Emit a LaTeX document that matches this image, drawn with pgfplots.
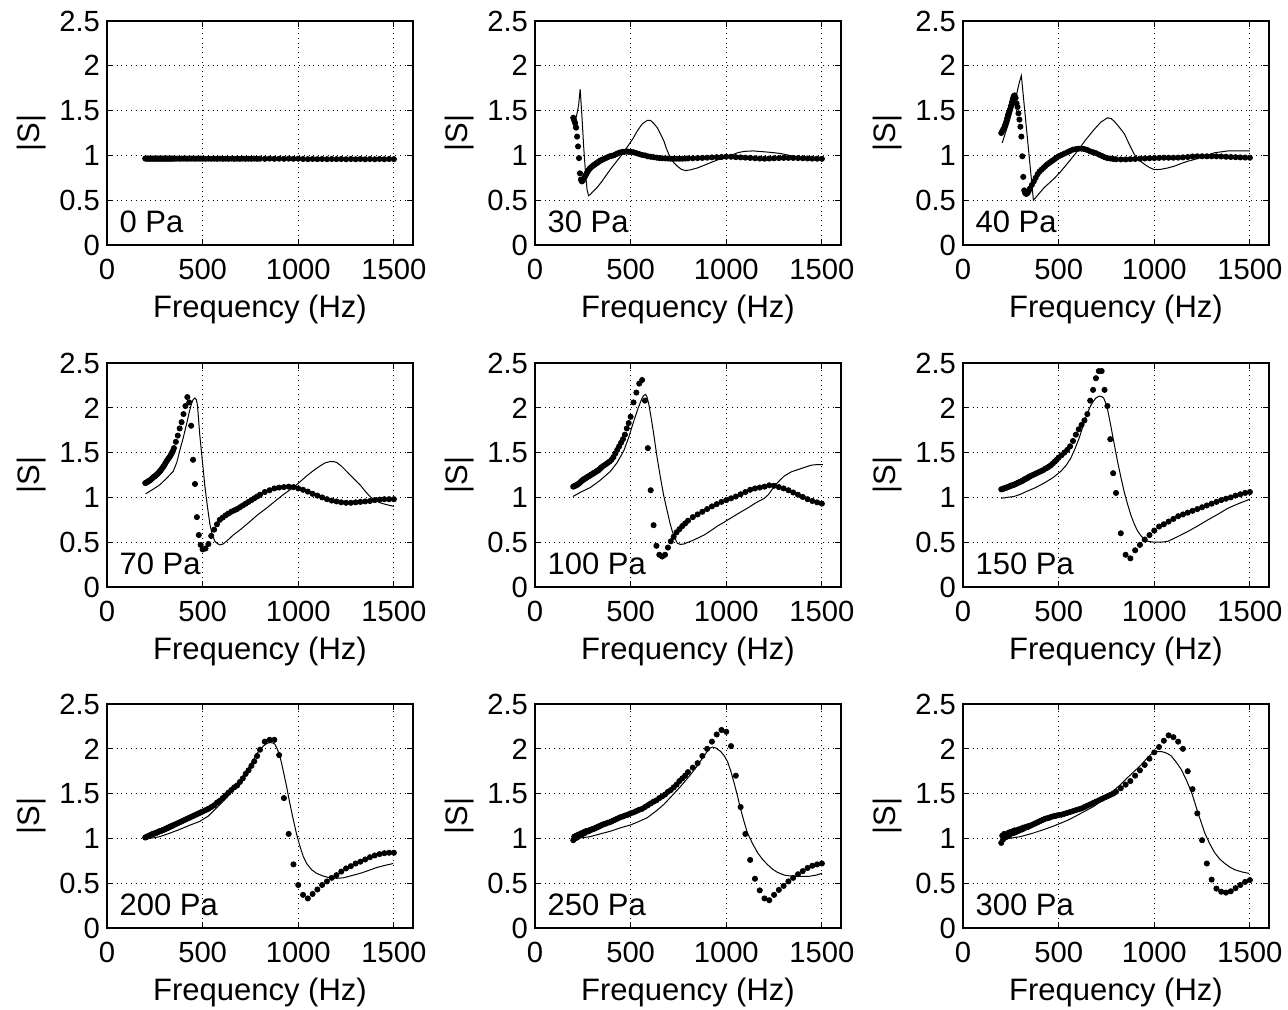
\documentclass[border=0pt]{standalone}
\usepackage{fontspec}
\setmainfont{Liberation Sans}
\usepackage{pgfplots}
\usepackage{pgfplotstable}
\pgfplotsset{compat=1.18}

\pgfplotstableread{
f d0 d30 d40 d70 d100 d150 d200 d250 d300
200 0.965 1.42 1.25 1.16 1.12 1.09 1.01 0.98 0.95
205 0.963 1.39 1.27 1.165 1.125 1.093 1.015 1.02 1.03
210 0.966 1.36 1.29 1.17 1.13 1.097 1.02 1.00 0.99
215 0.964 1.31 1.31 1.18 1.135 1.10 1.025 1.03 1.05
220 0.965 1.21 1.34 1.185 1.14 1.105 1.03 1.01 1.01
225 0.963 1.10 1.37 1.19 1.15 1.108 1.035 1.04 1.04
230 0.965 0.97 1.41 1.20 1.155 1.112 1.04 1.03 1.02
235 0.964 0.80 1.45 1.21 1.165 1.116 1.045 1.05 1.06
240 0.965 0.73 1.48 1.22 1.175 1.12 1.05 1.04 1.03
245 0.963 0.71 1.51 1.23 1.185 1.125 1.053 1.06 1.07
250 0.965 0.72 1.55 1.235 1.195 1.13 1.057 1.05 1.05
255 0.964 0.74 1.59 1.245 1.20 1.133 1.06 1.07 1.06
260 0.965 0.76 1.63 1.255 1.21 1.137 1.065 1.06 1.08
265 0.963 0.78 1.66 1.265 1.215 1.14 1.07 1.08 1.06
270 0.965 0.80 1.67 1.275 1.22 1.145 1.075 1.075 1.09
275 0.964 0.82 1.64 1.29 1.23 1.15 1.08 1.085 1.07
280 0.965 0.835 1.58 1.30 1.235 1.155 1.083 1.08 1.09
285 0.963 0.85 1.54 1.315 1.24 1.16 1.087 1.09 1.08
290 0.965 0.86 1.47 1.33 1.25 1.165 1.09 1.095 1.10
295 0.964 0.87 1.40 1.345 1.255 1.17 1.095 1.10 1.09
300 0.965 0.88 1.32 1.36 1.26 1.175 1.10 1.10 1.10
305 0.963 0.888 1.21 1.38 1.27 1.18 1.105 1.105 1.11
310 0.965 0.895 0.99 1.40 1.275 1.185 1.11 1.11 1.10
315 0.964 0.903 0.76 1.415 1.28 1.19 1.115 1.115 1.12
320 0.965 0.91 0.61 1.43 1.29 1.20 1.12 1.12 1.115
325 0.963 0.918 0.58 1.445 1.295 1.205 1.125 1.125 1.12
330 0.965 0.925 0.57 1.46 1.30 1.21 1.13 1.13 1.13
335 0.964 0.933 0.575 1.48 1.31 1.215 1.135 1.135 1.125
340 0.965 0.94 0.59 1.50 1.32 1.22 1.14 1.14 1.13
345 0.963 0.945 0.61 1.52 1.33 1.23 1.145 1.145 1.14
350 0.965 0.95 0.63 1.55 1.34 1.235 1.15 1.15 1.14
360 0.964 0.96 0.67 1.62 1.355 1.245 1.16 1.16 1.15
370 0.965 0.97 0.71 1.69 1.37 1.255 1.17 1.165 1.16
380 0.963 0.98 0.75 1.77 1.385 1.265 1.18 1.175 1.17
390 0.965 0.99 0.79 1.84 1.40 1.275 1.19 1.18 1.18
400 0.964 0.995 0.82 1.93 1.42 1.285 1.20 1.19 1.19
410 0.965 1.00 0.84 2.02 1.45 1.295 1.21 1.20 1.20
420 0.963 1.01 0.86 2.12 1.49 1.305 1.22 1.21 1.21
430 0.965 1.02 0.88 2.06 1.53 1.32 1.23 1.22 1.22
440 0.964 1.03 0.90 1.80 1.57 1.33 1.24 1.23 1.225
450 0.965 1.035 0.915 1.42 1.61 1.345 1.25 1.24 1.23
460 0.963 1.04 0.93 1.15 1.65 1.36 1.26 1.245 1.24
470 0.965 1.04 0.945 0.78 1.70 1.38 1.27 1.255 1.245
480 0.964 1.045 0.96 0.58 1.77 1.40 1.28 1.26 1.25
490 0.965 1.04 0.975 0.47 1.83 1.42 1.29 1.27 1.255
500 0.963 1.04 0.99 0.42 1.90 1.445 1.30 1.28 1.26
515 0.962 1.035 1.005 0.43 2.06 1.47 1.315 1.29 1.265
530 0.964 1.025 1.02 0.48 2.17 1.50 1.33 1.305 1.275
545 0.962 1.015 1.035 0.57 2.27 1.53 1.35 1.32 1.285
560 0.963 1.005 1.05 0.64 2.31 1.57 1.37 1.33 1.295
575 0.962 1.00 1.065 0.70 2.08 1.63 1.40 1.35 1.305
590 0.964 0.99 1.07 0.75 1.55 1.70 1.42 1.37 1.315
605 0.962 0.985 1.075 0.775 1.08 1.76 1.45 1.39 1.325
620 0.963 0.98 1.075 0.80 0.69 1.81 1.48 1.41 1.335
635 0.962 0.975 1.07 0.82 0.46 1.86 1.51 1.425 1.35
650 0.964 0.97 1.06 0.84 0.36 1.93 1.54 1.45 1.365
665 0.962 0.968 1.045 0.855 0.34 2.08 1.57 1.47 1.38
680 0.963 0.966 1.035 0.87 0.36 2.20 1.59 1.49 1.395
695 0.962 0.965 1.025 0.89 0.44 2.33 1.63 1.52 1.41
710 0.964 0.963 1.01 0.91 0.51 2.41 1.67 1.54 1.425
725 0.962 0.963 0.995 0.93 0.56 2.41 1.72 1.57 1.44
740 0.963 0.963 0.98 0.95 0.61 2.20 1.76 1.60 1.455
755 0.962 0.963 0.97 0.97 0.645 2.02 1.81 1.64 1.47
770 0.964 0.963 0.965 0.99 0.68 1.65 1.86 1.67 1.485
785 0.962 0.965 0.96 1.01 0.71 1.27 1.92 1.70 1.50
800 0.963 0.966 0.957 1.03 0.74 1.05 1.99 1.74 1.52
825 0.962 0.968 0.955 1.06 0.78 0.60 2.08 1.79 1.56
850 0.964 0.97 0.955 1.08 0.81 0.36 2.10 1.84 1.60
875 0.962 0.972 0.958 1.10 0.84 0.32 2.10 1.92 1.64
900 0.963 0.975 0.96 1.11 0.87 0.41 1.93 2.00 1.70
925 0.962 0.978 0.963 1.115 0.90 0.47 1.45 2.08 1.76
950 0.964 0.98 0.966 1.12 0.925 0.53 1.05 2.16 1.82
975 0.962 0.982 0.968 1.115 0.95 0.58 0.71 2.21 1.89
1000 0.963 0.985 0.97 1.10 0.97 0.63 0.48 2.19 1.96
1025 0.960 0.985 0.972 1.085 0.99 0.675 0.37 2.03 2.02
1050 0.958 0.98 0.974 1.065 1.01 0.70 0.33 1.70 2.09
1075 0.960 0.978 0.974 1.04 1.035 0.73 0.38 1.35 2.15
1100 0.958 0.975 0.974 1.02 1.06 0.76 0.43 1.05 2.13
1125 0.960 0.972 0.975 1.00 1.085 0.79 0.48 0.76 2.08
1150 0.958 0.968 0.978 0.98 1.10 0.81 0.52 0.55 2.00
1175 0.960 0.965 0.982 0.965 1.11 0.83 0.56 0.42 1.75
1200 0.958 0.963 0.988 0.955 1.12 0.85 0.59 0.33 1.55
1225 0.960 0.965 0.99 0.945 1.135 0.87 0.63 0.31 1.28
1250 0.957 0.968 0.99 0.94 1.13 0.89 0.665 0.37 0.98
1275 0.960 0.97 0.99 0.94 1.115 0.91 0.69 0.425 0.72
1300 0.957 0.972 0.99 0.945 1.10 0.93 0.72 0.47 0.54
1325 0.960 0.972 0.99 0.95 1.08 0.95 0.74 0.52 0.44
1350 0.957 0.972 0.988 0.955 1.055 0.97 0.765 0.56 0.405
1375 0.960 0.97 0.985 0.96 1.03 0.985 0.79 0.60 0.395
1400 0.957 0.968 0.982 0.97 1.005 1.00 0.81 0.635 0.41
1425 0.960 0.966 0.98 0.975 0.98 1.02 0.825 0.67 0.445
1450 0.957 0.964 0.978 0.98 0.96 1.035 0.835 0.695 0.48
1475 0.960 0.963 0.976 0.98 0.945 1.05 0.84 0.71 0.515
1500 0.958 0.962 0.974 0.98 0.93 1.06 0.84 0.72 0.535
}\meas

\pgfplotsset{
  panel/.style={
    scale only axis, width=153pt, height=112pt,
    anchor=south west,
    xmin=0, xmax=1600, ymin=0, ymax=2.5,
    xtick={0,500,1000,1500}, ytick={0,0.5,1,1.5,2,2.5},
    grid=major, major grid style={black, dotted, line width=0.5pt},
    tick align=inside, major tick length=3pt,
    tick style={black, line width=0.6pt},
    axis line style={line width=0.8pt},
    xlabel={Frequency (Hz)}, ylabel={|S|},
    /pgf/number format/assume math mode=true,
    /pgf/number format/1000 sep={},
    tick label style={font=\fontsize{14.6}{17}\selectfont},
    xticklabel style={yshift=-3.5pt},
    label style={font=\fontsize{15.5}{18}\selectfont},
    xlabel style={yshift=-1pt},
  },
  meas/.style={only marks, mark=*, mark size=1.3pt, black},
  model/.style={black, line width=0.5pt, mark=none},
}
\tikzset{pa/.style={anchor=base west, inner sep=0pt, font=\fontsize{15.5}{18}\selectfont}}

\begin{document}
\begin{tikzpicture}
\useasboundingbox (0,0) rectangle (644pt,504.5pt);

% ---------- row 1 ----------
\begin{axis}[panel, at={(53.5pt,382pt)}]
\addplot[meas] table[x=f,y=d0]{\meas};
\addplot[model] coordinates {(200,0.965)(800,0.963)(1500,0.962)};
\node[pa] at (rel axis cs:0.04,0.054) {0 Pa};
\end{axis}

\begin{axis}[panel, at={(267.5pt,382pt)}]
\addplot[meas] table[x=f,y=d30]{\meas};
\addplot[model] coordinates {(200,1.30)(210,1.38)(220,1.47)(228,1.56)(236,1.74)(245,1.45)(255,1.08)(265,0.78)(272,0.62)(280,0.55)(290,0.565)(300,0.59)(324,0.64)(350,0.71)(376,0.79)(400,0.86)(429,0.94)(455,1.01)(481,1.09)(510,1.18)(534,1.27)(560,1.35)(586,1.39)(604,1.39)(620,1.36)(639,1.31)(656,1.24)(674,1.16)(690,1.06)(709,0.97)(725,0.92)(744,0.88)(765,0.845)(788,0.83)(815,0.84)(849,0.86)(885,0.89)(919,0.92)(955,0.95)(989,0.97)(1024,1.00)(1060,1.03)(1094,1.045)(1140,1.05)(1199,1.04)(1250,1.03)(1287,1.02)(1330,1.00)(1374,0.98)(1430,0.97)(1500,0.97)};
\node[pa] at (rel axis cs:0.04,0.054) {30 Pa};
\end{axis}

\begin{axis}[panel, at={(481.5pt,382pt)}]
\addplot[meas] table[x=f,y=d40]{\meas};
\addplot[model] coordinates {(205,1.14)(220,1.24)(240,1.37)(260,1.52)(280,1.68)(295,1.82)(305,1.89)(320,1.56)(335,1.23)(350,0.90)(360,0.68)(368,0.50)(380,0.53)(400,0.58)(424,0.64)(450,0.69)(480,0.75)(511,0.82)(550,0.92)(599,1.05)(640,1.17)(686,1.29)(720,1.37)(756,1.42)(775,1.41)(791,1.38)(815,1.32)(844,1.24)(870,1.12)(896,1.01)(920,0.95)(949,0.90)(975,0.865)(1001,0.84)(1035,0.845)(1071,0.86)(1105,0.88)(1141,0.91)(1175,0.935)(1211,0.955)(1260,0.99)(1316,1.03)(1386,1.05)(1450,1.05)(1500,1.05)};
\node[pa] at (rel axis cs:0.04,0.054) {40 Pa};
\end{axis}

% ---------- row 2 ----------
\begin{axis}[panel, at={(53.5pt,211pt)}]
\addplot[meas] table[x=f,y=d70]{\meas};
\addplot[model] coordinates {(202,1.04)(240,1.09)(276,1.14)(310,1.21)(346,1.29)(365,1.39)(380,1.52)(398,1.66)(415,1.81)(430,1.95)(441,2.04)(450,2.09)(459,2.11)(467,2.09)(473,2.03)(485,1.70)(498,1.42)(511,1.14)(525,0.90)(538,0.70)(551,0.58)(564,0.51)(577,0.485)(590,0.47)(607,0.48)(630,0.52)(660,0.58)(700,0.645)(747,0.73)(790,0.81)(834,0.88)(880,0.96)(921,1.03)(960,1.09)(991,1.14)(1044,1.24)(1080,1.30)(1113,1.35)(1140,1.385)(1166,1.40)(1185,1.40)(1201,1.39)(1225,1.35)(1253,1.29)(1290,1.21)(1323,1.14)(1350,1.07)(1375,1.01)(1400,0.97)(1428,0.94)(1460,0.92)(1500,0.90)};
\node[pa] at (rel axis cs:0.04,0.054) {70 Pa};
\end{axis}

\begin{axis}[panel, at={(267.5pt,211pt)}]
\addplot[meas] table[x=f,y=d100]{\meas};
\addplot[model] coordinates {(198,1.01)(240,1.06)(289,1.11)(340,1.19)(394,1.29)(430,1.39)(464,1.52)(490,1.67)(516,1.85)(540,2.00)(560,2.11)(570,2.14)(578,2.15)(586,2.12)(595,2.04)(608,1.88)(621,1.70)(638,1.45)(656,1.22)(673,1.02)(691,0.85)(705,0.72)(718,0.62)(731,0.545)(744,0.49)(760,0.475)(779,0.48)(800,0.50)(814,0.51)(850,0.545)(884,0.58)(920,0.63)(954,0.68)(990,0.725)(1024,0.77)(1070,0.83)(1111,0.88)(1155,0.94)(1199,0.99)(1220,1.03)(1240,1.09)(1270,1.17)(1304,1.24)(1340,1.285)(1374,1.31)(1410,1.335)(1444,1.36)(1470,1.365)(1505,1.365)};
\node[pa] at (rel axis cs:0.04,0.054) {100 Pa};
\end{axis}

\begin{axis}[panel, at={(481.5pt,211pt)}]
\addplot[meas] table[x=f,y=d150]{\meas};
\addplot[model] coordinates {(200,0.99)(230,1.00)(266,1.01)(300,1.035)(336,1.07)(380,1.11)(424,1.16)(470,1.22)(511,1.29)(540,1.36)(564,1.44)(585,1.54)(607,1.66)(625,1.78)(642,1.89)(660,1.99)(677,2.06)(695,2.11)(712,2.13)(725,2.125)(735,2.11)(745,2.06)(756,1.98)(770,1.83)(791,1.59)(808,1.40)(826,1.22)(843,1.06)(861,0.92)(878,0.80)(896,0.70)(913,0.625)(931,0.57)(948,0.535)(966,0.51)(1000,0.50)(1036,0.50)(1071,0.51)(1120,0.56)(1176,0.62)(1230,0.685)(1281,0.75)(1335,0.815)(1386,0.88)(1440,0.93)(1500,0.98)};
\node[pa] at (rel axis cs:0.04,0.054) {150 Pa};
\end{axis}

% ---------- row 3 ----------
\begin{axis}[panel, at={(53.5pt,40.5pt)}]
\addplot[meas] table[x=f,y=d200]{\meas};
\addplot[model] coordinates {(206,1.00)(240,1.005)(276,1.02)(330,1.06)(380,1.10)(430,1.145)(485,1.19)(530,1.25)(572,1.34)(615,1.43)(660,1.54)(705,1.67)(747,1.81)(785,1.95)(817,2.03)(835,2.06)(852,2.07)(868,2.065)(878,2.05)(890,2.00)(904,1.92)(920,1.77)(939,1.58)(956,1.39)(974,1.21)(991,1.05)(1009,0.91)(1026,0.80)(1044,0.72)(1070,0.65)(1096,0.61)(1130,0.58)(1166,0.56)(1200,0.555)(1236,0.56)(1280,0.585)(1323,0.61)(1365,0.64)(1410,0.675)(1455,0.70)(1497,0.72)};
\node[pa] at (rel axis cs:0.04,0.054) {200 Pa};
\end{axis}

\begin{axis}[panel, at={(267.5pt,40.5pt)}]
\addplot[meas] table[x=f,y=d250]{\meas};
\addplot[model] coordinates {(200,1.00)(240,1.005)(289,1.02)(340,1.05)(394,1.08)(450,1.12)(499,1.15)(545,1.19)(586,1.23)(630,1.30)(674,1.38)(718,1.48)(761,1.58)(805,1.69)(849,1.81)(880,1.91)(910,2.00)(928,2.02)(945,2.01)(971,1.97)(990,1.92)(1006,1.86)(1024,1.75)(1041,1.62)(1059,1.47)(1076,1.32)(1094,1.18)(1111,1.06)(1138,0.94)(1164,0.84)(1190,0.765)(1217,0.705)(1243,0.655)(1269,0.62)(1304,0.59)(1357,0.575)(1427,0.575)(1470,0.59)(1500,0.61)};
\node[pa] at (rel axis cs:0.04,0.054) {250 Pa};
\end{axis}

\begin{axis}[panel, at={(481.5pt,40.5pt)}]
\addplot[meas] table[x=f,y=d300]{\meas};
\addplot[model] coordinates {(196,0.985)(240,1.00)(301,1.02)(360,1.055)(424,1.10)(470,1.135)(511,1.17)(555,1.21)(599,1.26)(643,1.31)(686,1.36)(730,1.43)(774,1.51)(818,1.59)(861,1.68)(896,1.75)(931,1.82)(960,1.89)(984,1.94)(1001,1.96)(1019,1.97)(1036,1.97)(1054,1.96)(1071,1.945)(1089,1.92)(1115,1.85)(1141,1.77)(1168,1.65)(1194,1.52)(1212,1.40)(1229,1.28)(1247,1.17)(1264,1.06)(1290,0.94)(1316,0.84)(1342,0.77)(1369,0.72)(1395,0.68)(1421,0.65)(1460,0.625)(1495,0.61)};
\node[pa] at (rel axis cs:0.04,0.054) {300 Pa};
\end{axis}
\end{tikzpicture}
\end{document}
